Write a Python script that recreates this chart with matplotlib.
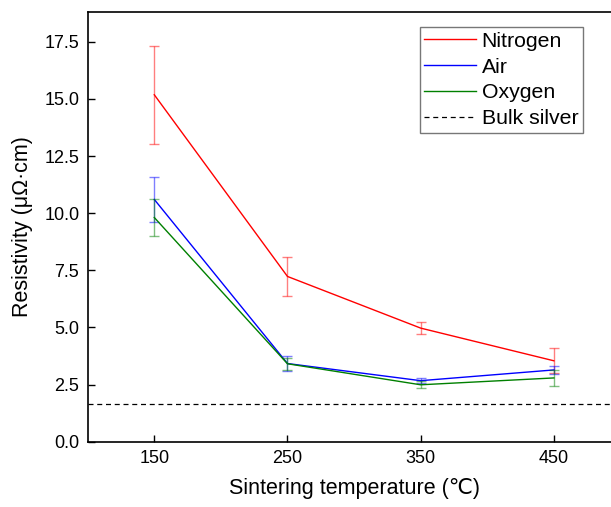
import numpy as np
import matplotlib
matplotlib.use('Agg')
import matplotlib.pyplot as plt

plt.rcParams['font.family'] = ['Liberation Sans', 'DejaVu Sans', 'Noto Sans CJK SC']

# data
temps = [150, 250, 350, 450]
nitrogen = [15.18, 7.23, 4.97, 3.54]
nitrogen_err = [2.15, 0.87, 0.25, 0.55]
air = [10.6, 3.42, 2.67, 3.14]
air_err = [0.98, 0.31, 0.11, 0.19]
oxygen = [9.81, 3.41, 2.49, 2.79]
oxygen_err = [0.82, 0.27, 0.15, 0.36]
bulk_silver = 1.65

fig = plt.figure(figsize=(6.11, 5.07), dpi=100)
ax = fig.add_axes([0.1435, 0.1288, 0.872, 0.8475])

series = [
    ('Nitrogen', nitrogen, nitrogen_err, '#ff0000'),
    ('Air', air, air_err, '#0000ff'),
    ('Oxygen', oxygen, oxygen_err, '#008000'),
]
for name, vals, err, col in series:
    ax.errorbar(temps, vals, yerr=err, fmt='none', ecolor=col, alpha=0.5,
                elinewidth=1.0, capsize=3.3, capthick=1.0)
    ax.plot(temps, vals, color=col, lw=1.0, label=name)

ax.axhline(bulk_silver, color='black', ls=(0, (4, 3)), lw=0.9, label='Bulk silver')

ax.set_xlim(100, 500)
ax.set_ylim(0, 18.8)
ax.set_xticks(temps)
ax.set_yticks(np.arange(0, 17.6, 2.5))
ax.set_yticklabels(['%.1f' % v for v in np.arange(0, 17.6, 2.5)])
ax.tick_params(direction='in', length=5, width=1.0, labelsize=13, pad=6)
for s in ax.spines.values():
    s.set_linewidth(1.2)

ax.set_xlabel('Sintering temperature (\u2103)', fontsize=15.5, labelpad=8)
ax.set_ylabel('Resistivity (\u03bc\u03a9\u00b7cm)', fontsize=15.5, labelpad=8)

leg = ax.legend(loc='upper left', bbox_to_anchor=(0.623, 0.965), fontsize=15.3,
                frameon=True, fancybox=False, handlelength=2.45,
                handletextpad=0.25, labelspacing=0.32, borderpad=0.22,
                borderaxespad=0)
leg.get_frame().set_edgecolor('#555555')
leg.get_frame().set_linewidth(1.0)

fig.savefig('out.png', dpi=100)
